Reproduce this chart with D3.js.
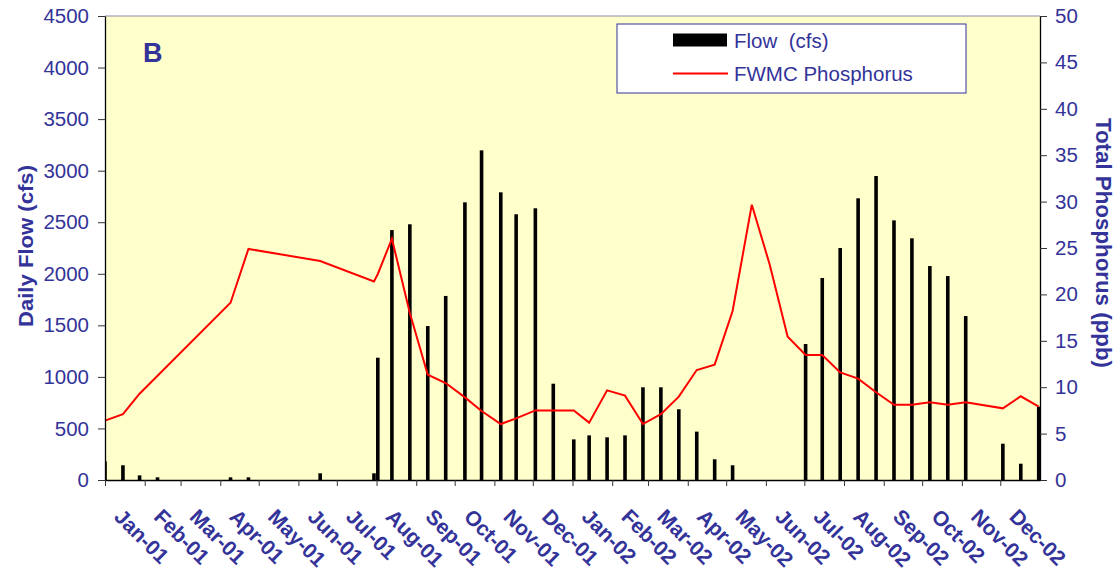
<!DOCTYPE html>
<html lang="en">
<head>
  <meta charset="UTF-8" />
  <title>Daily Flow and FWMC Phosphorus</title>
  <script src="https://d3js.org/d3.v7.min.js"></script>
  <style>
    body {
      margin: 0;
      background: #fff;
    }
    svg {
      display: block;
      font-family: Arial, 'Liberation Sans', sans-serif;
    }
    .axis .tick text {
      fill: #333399;
      font-size: 20.5px;
    }
    .axis .tick line {
      stroke: #333;
    }
    .axis path.domain {
      stroke: #000;
      stroke-width: 1.3px;
    }
    .month-label {
      fill: #333399;
      font-size: 21px;
      font-weight: bold;
    }
    .axis-title {
      fill: #333399;
      font-weight: bold;
    }
    .legend-text {
      fill: #333399;
      font-size: 20.5px;
      white-space: pre;
    }
  </style>
</head>
<body>
  <svg id="chart" width="1119" height="570"></svg>

  <script>
    // sampling dates, flow (cfs) and FWMC phosphorus (ppb); null = not shown
    const sampleDates = [
      "2001-01-01", "2001-01-15", "2001-01-28", "2001-02-11", "2001-04-09", "2001-04-23",
      "2001-06-18", "2001-07-30", "2001-08-02", "2001-08-13", "2001-08-27", "2001-09-10",
      "2001-09-24", "2001-10-09", "2001-10-22", "2001-11-06", "2001-11-18", "2001-12-03",
      "2001-12-17", "2002-01-02", "2002-01-14", "2002-01-28", "2002-02-11", "2002-02-25",
      "2002-03-11", "2002-03-25", "2002-04-08", "2002-04-22", "2002-05-06", "2002-05-21",
      "2002-06-04", "2002-06-18", "2002-07-02", "2002-07-15", "2002-07-29", "2002-08-12",
      "2002-08-26", "2002-09-09", "2002-09-23", "2002-10-07", "2002-10-21", "2002-11-04",
      "2002-12-03", "2002-12-17", "2002-12-31"
    ];
    const flowCfs = [
      181, 143, 45, 26, 26, 26,
      65, 65, 1186, 2424, 2480, 1493,
      1785, 2693, 3197, 2790, 2577, 2635,
      934, 394, 433, 414, 433, 899,
      899, 686, 469, 201, 143, null,
      null, null, 1319, 1959, 2250, 2732,
      2948, 2518, 2344, 2075, 1978, 1590,
      352, 158, 711
    ];
    const phosphorusPpb = [
      6.4, 7.1, 9.3, null, 19.1, 24.9,
      23.6, 21.4, 22.2, 26.0, 18.0, 11.35,
      10.45, 8.9, 7.43, 6.03, 6.64, 7.5,
      7.5, 7.5, 6.18, 9.66, 9.09, 6.03,
      7.1, 8.98, 11.85, 12.43, 18.21, 29.67,
      23.2, 15.45, 13.47, 13.47, 11.6, 10.92,
      9.45, 8.11, 8.11, 8.37, 8.11, 8.37,
      7.72, 9.02, 7.9
    ];
    const flowTicks = [0, 500, 1000, 1500, 2000, 2500, 3000, 3500, 4000, 4500];
    const phosphorusTicks = [0, 5, 10, 15, 20, 25, 30, 35, 40, 45, 50];
    const monthLabels = [
      "Jan-01", "Feb-01", "Mar-01", "Apr-01", "May-01", "Jun-01",
      "Jul-01", "Aug-01", "Sep-01", "Oct-01", "Nov-01", "Dec-01",
      "Jan-02", "Feb-02", "Mar-02", "Apr-02", "May-02", "Jun-02",
      "Jul-02", "Aug-02", "Sep-02", "Oct-02", "Nov-02", "Dec-02"
    ];

    const parseDate = d3.utcParse("%Y-%m-%d");
    const rows = sampleDates.map((d, i) => ({
      date: parseDate(d),
      flow: flowCfs[i],
      tp: phosphorusPpb[i]
    }));

    const plotLeft = 105, plotRight = 1040, plotTop = 16, plotBottom = 480;
    const svg = d3.select("#chart");

    const x = d3.scaleUtc()
      .domain([parseDate("2001-01-01"), parseDate("2003-01-01")])
      .range([plotLeft, plotRight]);
    const yFlow = d3.scaleLinear().domain([0, 4500]).range([plotBottom, plotTop]);
    const yTp = d3.scaleLinear().domain([0, 50]).range([plotBottom, plotTop]);

    // plot area
    svg.append("rect")
      .attr("x", plotLeft).attr("y", plotTop)
      .attr("width", plotRight - plotLeft).attr("height", plotBottom - plotTop)
      .attr("fill", "#ffffcc");
    svg.append("line")
      .attr("x1", plotLeft).attr("x2", plotRight)
      .attr("y1", plotTop).attr("y2", plotTop)
      .attr("stroke", "#8a8aa8").attr("stroke-width", 1.2);

    svg.append("clipPath").attr("id", "plotClip")
      .append("rect")
      .attr("x", plotLeft).attr("y", plotTop)
      .attr("width", plotRight - plotLeft).attr("height", plotBottom - plotTop);

    // flow bars
    const barW = 3.6;
    svg.append("g")
      .attr("clip-path", "url(#plotClip)")
      .selectAll("rect")
      .data(rows.filter(d => d.flow != null))
      .join("rect")
      .attr("x", d => x(d.date) - barW / 2)
      .attr("y", d => yFlow(d.flow))
      .attr("width", barW)
      .attr("height", d => plotBottom - yFlow(d.flow))
      .attr("fill", "#000");

    // phosphorus line
    const line = d3.line()
      .x(d => x(d.date))
      .y(d => yTp(d.tp));
    svg.append("path")
      .datum(rows.filter(d => d.tp != null))
      .attr("d", line)
      .attr("fill", "none")
      .attr("stroke", "#ff0000")
      .attr("stroke-width", 2)
      .attr("stroke-linejoin", "miter");

    // axes
    svg.append("g")
      .attr("class", "axis")
      .attr("transform", `translate(${plotLeft},0)`)
      .call(d3.axisLeft(yFlow).tickValues(flowTicks).tickFormat(d3.format("d"))
        .tickSize(7).tickPadding(9).tickSizeOuter(0));

    svg.append("g")
      .attr("class", "axis")
      .attr("transform", `translate(${plotRight},0)`)
      .call(d3.axisRight(yTp).tickValues(phosphorusTicks).tickFormat(d3.format("d"))
        .tickSize(7).tickPadding(8).tickSizeOuter(0));

    const months = d3.utcMonth.range(parseDate("2001-01-01"), parseDate("2003-01-01"));
    svg.append("g")
      .attr("class", "axis")
      .attr("transform", `translate(0,${plotBottom})`)
      .call(d3.axisBottom(x).tickValues(months).tickSize(6).tickSizeOuter(0).tickFormat(""));

    svg.append("g")
      .selectAll("text")
      .data(months)
      .join("text")
      .attr("class", "month-label")
      .attr("transform", d => `translate(${x(d) + 8},${plotBottom + 38}) rotate(45)`)
      .text((d, i) => monthLabels[i]);

    // axis titles
    svg.append("text")
      .attr("class", "axis-title")
      .attr("font-size", 20)
      .attr("text-anchor", "middle")
      .attr("textLength", 162)
      .attr("lengthAdjust", "spacingAndGlyphs")
      .attr("transform", `translate(33,${(plotTop + plotBottom) / 2 - 2}) rotate(-90)`)
      .text("Daily Flow (cfs)");

    svg.append("text")
      .attr("class", "axis-title")
      .attr("font-size", 21.5)
      .attr("text-anchor", "middle")
      .attr("textLength", 250)
      .attr("lengthAdjust", "spacingAndGlyphs")
      .attr("transform", `translate(1096,${(plotTop + plotBottom) / 2 - 5}) rotate(90)`)
      .text("Total Phosphorus (ppb)");

    // panel letter
    svg.append("text")
      .attr("x", 143).attr("y", 62)
      .attr("fill", "#333399")
      .attr("font-size", 27)
      .attr("font-weight", "bold")
      .text("B");

    // legend
    const legend = svg.append("g").attr("transform", "translate(617,24)");
    legend.append("rect")
      .attr("width", 349).attr("height", 69)
      .attr("fill", "#fff")
      .attr("stroke", "#333399").attr("stroke-width", 1);
    legend.append("rect")
      .attr("x", 56).attr("y", 9.5)
      .attr("width", 54).attr("height", 13)
      .attr("fill", "#000");
    legend.append("text")
      .attr("class", "legend-text")
      .attr("x", 117).attr("y", 24)
      .text("Flow  (cfs)");
    legend.append("line")
      .attr("x1", 56).attr("x2", 111)
      .attr("y1", 49.5).attr("y2", 49.5)
      .attr("stroke", "#ff0000").attr("stroke-width", 2);
    legend.append("text")
      .attr("class", "legend-text")
      .attr("x", 117).attr("y", 57)
      .text("FWMC Phosphorus");
  </script>
</body>
</html>
